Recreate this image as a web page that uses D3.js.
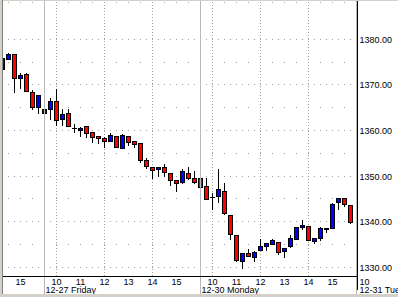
<!DOCTYPE html>
<html>
<head>
<meta charset="utf-8">
<script src="https://cdn.jsdelivr.net/npm/d3@7"></script>
<style>
  html, body { margin: 0; padding: 0; background: #fff; }
  svg { display: block; }
  text { font-family: "Liberation Sans", Arial, sans-serif; font-size: 9px; fill: #000; }
</style>
</head>
<body>
<div id="chart"></div>
<script>
// 15 minute bars, 26 per session (9:30 - 16:00)
const days = ["12-26 Thursday", "12-27 Friday", "12-30 Monday", "12-31 Tuesday"];
const barsPerDay = 26;
const firstBar = 19; // first bar on screen is bar 19 of 12-26
const hourLabels = ["10", "11", "12", "13", "14", "15"];
const hourBars = [2, 6, 10, 14, 18, 22];
const gridBars = [2, 10, 18];
const yTicks = [1330, 1340, 1350, 1360, 1370, 1380];
const yMinor = [1335, 1345, 1355, 1365, 1375];

const open = [
  1373.4, 1375.5, 1376.6, 1371.4, 1372.2, 1368.4, 1365.0,
  1363.8, 1364.7, 1366.3, 1362.5, 1363.8, 1360.5, 1360.0, 1360.8, 1359.5, 1358.7, 1358.2, 1357.6, 1358.6,
  1356.1, 1358.6, 1357.6, 1357.1, 1353.5, 1352.0, 1351.4, 1352.0, 1350.6, 1349.1, 1348.7, 1350.6, 1349.5,
  1349.5, 1347.7, 1345.4, 1345.6, 1346.7, 1341.4, 1337.0, 1331.3, 1333.0, 1332.2, 1333.8, 1334.5, 1335.1,
  1335.5, 1333.4, 1334.5, 1336.2, 1338.7, 1339.0, 1335.6, 1336.3, 1338.4, 1338.6, 1344.3, 1345.2, 1343.6
];
const high = [
  1375.7, 1377.0, 1376.7, 1372.7, 1372.7, 1368.9, 1367.7,
  1367.8, 1367.2, 1369.3, 1364.9, 1364.9, 1361.6, 1360.9, 1361.2, 1359.6, 1358.7, 1358.7, 1359.6, 1358.7,
  1359.3, 1358.7, 1357.9, 1357.2, 1354.1, 1352.1, 1352.0, 1352.8, 1350.7, 1349.2, 1351.6, 1352.2, 1351.2,
  1353.6, 1349.8, 1346.4, 1351.6, 1348.7, 1341.5, 1337.1, 1333.1, 1334.2, 1333.8, 1336.4, 1335.4, 1336.4,
  1335.6, 1334.3, 1337.1, 1338.9, 1340.4, 1339.1, 1336.5, 1338.9, 1338.7, 1344.2, 1345.2, 1345.4, 1343.7
];
const low = [
  1373.4, 1375.5, 1368.3, 1369.3, 1368.6, 1364.7, 1363.8,
  1362.0, 1362.5, 1361.2, 1361.0, 1360.9, 1359.5, 1358.7, 1358.4, 1357.3, 1357.1, 1356.3, 1357.5, 1356.2,
  1356.0, 1356.7, 1356.3, 1353.0, 1351.6, 1349.4, 1350.0, 1349.9, 1347.9, 1346.6, 1348.4, 1349.2, 1348.4,
  1347.5, 1344.8, 1342.7, 1344.2, 1341.6, 1336.1, 1331.3, 1329.8, 1332.3, 1331.3, 1333.6, 1333.7, 1335.0,
  1332.9, 1332.1, 1334.4, 1336.1, 1338.4, 1335.8, 1335.2, 1335.9, 1337.7, 1338.5, 1342.6, 1343.3, 1339.7
];
const close = [
  1375.7, 1376.6, 1371.5, 1372.0, 1368.6, 1365.0, 1367.7,
  1364.7, 1366.3, 1362.3, 1363.6, 1360.9, 1360.5, 1360.5, 1359.4, 1358.4, 1358.3, 1357.6, 1358.8, 1356.3,
  1358.8, 1357.4, 1357.0, 1353.4, 1352.2, 1351.2, 1352.0, 1350.9, 1349.1, 1348.4, 1351.1, 1349.5, 1348.6,
  1347.6, 1344.9, 1345.4, 1347.1, 1341.8, 1337.3, 1331.6, 1333.1, 1332.4, 1333.3, 1334.5, 1335.3, 1335.8,
  1333.2, 1334.2, 1336.4, 1338.8, 1339.2, 1335.9, 1336.4, 1338.6, 1338.6, 1343.7, 1345.2, 1343.8, 1339.9
];

const W = 398, H = 297;
const pLeft = 3, pRight = 357, pTop = 1, pBottom = 276;

const x = d3.scaleLinear().domain([firstBar, barsPerDay * 3]).range([2.5, 356.5]);
const y = d3.scaleLinear().domain([1328.1, 1388.4]).range([pBottom, pTop]);
const py = v => Math.floor(y(v)) + 0.5;

const svg = d3.select("#chart").append("svg")
  .attr("width", W)
  .attr("height", H)
  .attr("shape-rendering", "crispEdges");

svg.append("rect").attr("width", W).attr("height", H).attr("fill", "#fff");

svg.append("clipPath").attr("id", "plot")
  .append("rect")
  .attr("x", pLeft).attr("y", pTop)
  .attr("width", pRight - pLeft).attr("height", pBottom - pTop);

const plot = svg.append("g").attr("clip-path", "url(#plot)");

// horizontal grid
plot.selectAll(".gmaj").data(yTicks).enter().append("line")
  .attr("x1", 2).attr("x2", pRight)
  .attr("y1", py).attr("y2", py)
  .attr("stroke", "#a0a0a0")
  .attr("stroke-dasharray", "1,5");

plot.selectAll(".gmin").data(yMinor.concat([1388.4])).enter().append("line")
  .attr("x1", 2).attr("x2", pRight)
  .attr("y1", d => d > 1385 ? 2.5 : py(d))
  .attr("y2", d => d > 1385 ? 2.5 : py(d))
  .attr("stroke", "#a0a0a0")
  .attr("stroke-dasharray", "1,11")
  .attr("stroke-dashoffset", 6);

// vertical grid, every two hours
const vGrid = [];
days.forEach((d, i) => gridBars.forEach(b => vGrid.push(i * barsPerDay + b)));
plot.selectAll(".vg").data(vGrid).enter().append("line")
  .attr("x1", d => x(d)).attr("x2", d => x(d))
  .attr("y1", 2).attr("y2", pBottom)
  .attr("stroke", "#a0a0a0")
  .attr("stroke-dasharray", "1,2");

// session separators
const seps = days.map((d, i) => i * barsPerDay).slice(1);
svg.selectAll(".sep").data(seps).enter().append("line")
  .attr("x1", d => x(d)).attr("x2", d => x(d))
  .attr("y1", pTop).attr("y2", 294)
  .attr("stroke", "#b8b8b8");

// candles
const bars = open.map((o, i) => ({
  s: firstBar + i, o: o, h: high[i], l: low[i], c: close[i]
}));

const candle = plot.selectAll(".candle").data(bars).enter().append("g");

candle.append("line")
  .attr("x1", d => x(d.s)).attr("x2", d => x(d.s))
  .attr("y1", d => py(d.h)).attr("y2", d => py(d.l) + 0.5)
  .attr("stroke", "#000");

candle.filter(d => d.o !== d.c).append("rect")
  .attr("x", d => x(d.s) - 2)
  .attr("width", 4)
  .attr("y", d => py(Math.max(d.o, d.c)))
  .attr("height", d => Math.max(1, py(Math.min(d.o, d.c)) - py(Math.max(d.o, d.c))))
  .attr("fill", d => d.c > d.o ? "#0000ff" : "#ff0000")
  .attr("stroke", "#000");

candle.filter(d => d.o === d.c).append("line")
  .attr("x1", d => x(d.s) - 2.5).attr("x2", d => x(d.s) + 2.5)
  .attr("y1", d => py(d.o)).attr("y2", d => py(d.o))
  .attr("stroke", "#000");

// axes lines
svg.append("line")
  .attr("x1", 3).attr("x2", pRight + 0.5)
  .attr("y1", pBottom + 0.5).attr("y2", pBottom + 0.5)
  .attr("stroke", "#000");
svg.append("line")
  .attr("x1", pRight + 0.5).attr("x2", pRight + 0.5)
  .attr("y1", 0).attr("y2", 290)
  .attr("stroke", "#000");

// price labels
svg.selectAll(".ylab").data(yTicks).enter().append("text")
  .attr("x", pRight + 2.5)
  .attr("y", d => py(d) + 3.3)
  .text(d => d.toFixed(2));

// hour labels
const hours = [];
days.forEach((d, i) => hourBars.forEach((b, j) => hours.push({ s: i * barsPerDay + b, t: hourLabels[j] })));
svg.selectAll(".hlab").data(hours.filter(d => x(d.s) > pLeft && x(d.s) < pRight + 15)).enter().append("text")
  .attr("x", d => x(d.s) > pRight ? pRight + 2.5 : x(d.s))
  .attr("y", 285)
  .attr("text-anchor", d => x(d.s) > pRight ? "start" : "middle")
  .text(d => d.t);

// date labels (the 12-26 one falls left of the window)
svg.selectAll(".dlab").data(days.map((d, i) => ({ t: d, s: i * barsPerDay })).filter(d => x(d.s) > 0))
  .enter().append("text")
  .attr("x", d => d.s >= barsPerDay * 3 ? pRight + 2.5 : x(d.s) + 1)
  .attr("y", 293)
  .text(d => d.t);

// window frame
svg.append("rect").attr("x", 0).attr("y", 0).attr("width", 2).attr("height", H).attr("fill", "#d4d0c8");
svg.append("rect").attr("x", 0).attr("y", 0).attr("width", W).attr("height", 1).attr("fill", "#d4d0c8");
svg.append("rect").attr("x", 0).attr("y", 294).attr("width", W).attr("height", 3).attr("fill", "#d4d0c8");
svg.append("line")
  .attr("x1", 2.5).attr("x2", 2.5).attr("y1", 0).attr("y2", 294)
  .attr("stroke", "#808080");
</script>
</body>
</html>
